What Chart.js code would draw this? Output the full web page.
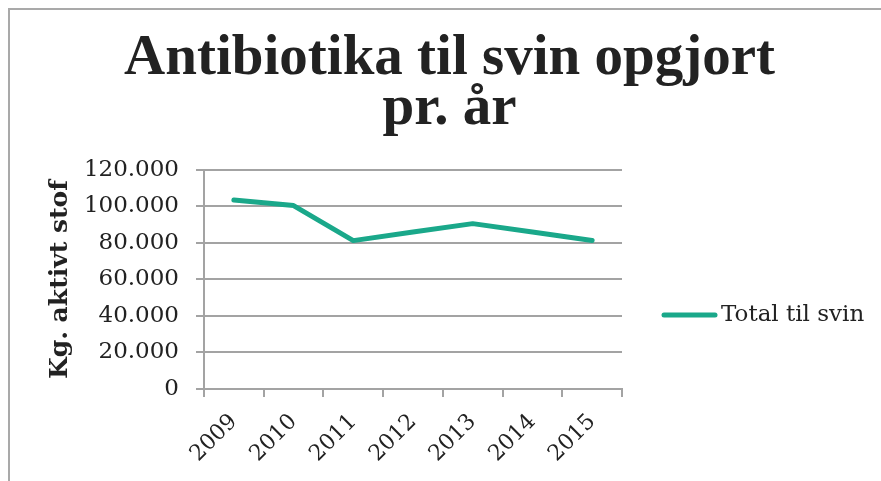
<!DOCTYPE html>
<html>
<head>
<meta charset="utf-8">
<script src="https://cdn.jsdelivr.net/npm/chart.js@4/dist/chart.umd.min.js"></script>
<style>
  body { margin: 0; background: #fff; }
  #wrap { position: relative; width: 881px; height: 481px; overflow: hidden; }
  #frame { position: absolute; left: 8px; top: 8px; width: 900px; height: 500px;
           border-left: 2px solid #a9a9a9; border-top: 2px solid #a9a9a9; pointer-events: none; }
</style>
</head>
<body>
<div id="wrap">
  <canvas id="myChart" width="881" height="481"></canvas>
  <div id="frame"></div>
</div>
<script>
// data
var years = ['2009', '2010', '2011', '2012', '2013', '2014', '2015']
var totalSvin = [103500, 100500, 81300, 86000, 90600, 86000, 81400]
var seriesName = 'Total til svin'
var titleLines = ['Antibiotika til svin opgjort', 'pr. år']
var yTitle = 'Kg. aktivt stof'
var yMax = 120000
var yStep = 20000

var teal = '#1aa88a'
var gridGray = '#a3a3a3'
var textColor = '#222222'

// 120000 -> "120.000"
function fmt(v) {
    return String(v).replace(/\B(?=(\d{3})+(?!\d))/g, '.')
}

// legend drawn by hand so it sits right where Excel put it
var sideLegend = {
    id: 'sideLegend',
    afterDraw: function (chart) {
        var ctx = chart.ctx
        var area = chart.chartArea
        var ds = chart.data.datasets[0]
        var x0 = area.right + 40
        var y0 = area.top + 145
        ctx.save()
        ctx.strokeStyle = ds.borderColor
        ctx.lineWidth = 5
        ctx.lineCap = 'round'
        ctx.beginPath()
        ctx.moveTo(x0 + 2, y0)
        ctx.lineTo(x0 + 53, y0)
        ctx.stroke()
        ctx.fillStyle = textColor
        ctx.font = '23px "DejaVu Serif"'
        ctx.textBaseline = 'middle'
        ctx.fillText(ds.label, x0 + 59, y0)
        ctx.restore()
    }
}

Chart.defaults.font.family = '"DejaVu Serif", serif'
Chart.defaults.color = textColor

var ctx = document.getElementById('myChart').getContext('2d')

var myChart = new Chart(ctx, {
    type: 'line',
    data: {
        labels: years,
        datasets: [{
            label: seriesName,
            data: totalSvin,
            borderColor: teal,
            backgroundColor: teal,
            borderWidth: 5,
            borderCapStyle: 'round',
            borderJoinStyle: 'round',
            pointRadius: 0,
            tension: 0,
            fill: false
        }]
    },
    options: {
        responsive: false,
        animation: false,
        layout: { padding: { top: 0, left: 18, right: 0, bottom: 0 } },
        plugins: {
            legend: { display: false },
            tooltip: { enabled: false },
            title: {
                display: true,
                text: titleLines,
                color: textColor,
                font: { family: '"Liberation Serif", serif', size: 57, weight: 'bold', lineHeight: 0.877 },
                padding: { top: 34, bottom: 36 }
            }
        },
        scales: {
            x: {
                offset: true,
                grid: {
                    display: true,
                    offset: true,
                    drawOnChartArea: false,
                    drawTicks: true,
                    tickLength: 8,
                    color: gridGray,
                    lineWidth: 2
                },
                border: { display: true, color: gridGray, width: 2 },
                ticks: {
                    maxRotation: 45,
                    minRotation: 45,
                    padding: 12,
                    color: textColor,
                    font: { size: 22 }
                },
                afterFit: function (scale) { scale.height = 92 }
            },
            y: {
                min: 0,
                max: yMax,
                grid: {
                    color: gridGray,
                    lineWidth: 2,
                    drawTicks: true,
                    tickLength: 8
                },
                border: { display: true, color: gridGray, width: 2 },
                ticks: {
                    stepSize: yStep,
                    padding: 17,
                    color: textColor,
                    font: { size: 23 },
                    callback: function (v) { return fmt(v) }
                },
                title: {
                    display: true,
                    text: yTitle,
                    color: textColor,
                    font: { size: 25, weight: 'bold' },
                    padding: { top: 27, bottom: 0 }
                },
                afterFit: function (scale) { scale.width = 186 }
            },
            // empty axis only to keep room for the legend on the right
            side: {
                type: 'linear',
                position: 'right',
                display: true,
                grid: { display: false },
                border: { display: false },
                ticks: { display: false },
                afterFit: function (scale) { scale.width = 259 }
            }
        }
    },
    plugins: [sideLegend]
})
</script>
</body>
</html>
